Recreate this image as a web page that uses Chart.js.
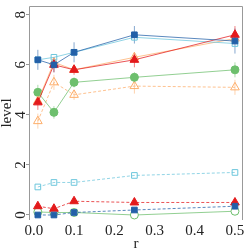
<!DOCTYPE html>
<html>
<head>
<meta charset="utf-8">
<script src="https://cdn.jsdelivr.net/npm/chart.js@4.4.0/dist/chart.umd.min.js"></script>
<style>
  html, body { margin: 0; padding: 0; background: #fff; }
  #wrap { width: 249px; height: 249px; }
</style>
</head>
<body>
<div id="wrap"><canvas id="levelChart" width="249" height="249"></canvas></div>
<script>
// r values on the x axis
const rValues = [0.01, 0.05, 0.1, 0.25, 0.5];
const xTicks = [0.0, 0.1, 0.2, 0.3, 0.4, 0.5];
const yTicks = [0, 2, 4, 6, 8];

// upper group (solid lines)
const blueSolid   = [6.2, 6.0, 6.5, 7.2, 6.95];
const blueSolidErr = [0.4, 0.3, 0.4, 0.35, 0.5];
const cyanSolid   = [6.2, 6.3, 6.5, 7.1, 6.85];
const redSolid    = [4.5, 6.0, 5.8, 6.2, 7.2];
const redSolidErr = [0.3, 0.3, 0.2, 0.3, 0.35];
const orangeSolid = [4.55, 6.1, 5.8, 6.3, 7.05];
const greenSolid  = [4.9, 4.1, 5.3, 5.5, 5.8];
const greenSolidErr = [0.3, 0.25, 0.2, 0.2, 0.3];

// upper group (dashed)
const orangeDashed = [3.75, 5.3, 4.8, 5.15, 5.1];
const orangeDashedErr = [0.3, 0.3, 0.2, 0.3, 0.3];

// lower group
const cyanDashed  = [1.12, 1.3, 1.3, 1.58, 1.7];
const redDashed   = [0.35, 0.25, 0.55, 0.5, 0.5];
const blueDashed  = [0.0, 0.0, 0.1, 0.2, 0.35];
const greenOpen   = [0.12, 0.1, 0.1, 0.0, 0.15];

const BLUE = [35, 96, 168];
const CYAN = [108, 198, 220];
const RED = [227, 26, 28];
const ORANGE = [253, 174, 107];
const GREEN = [109, 191, 109];

const rgba = (c, a) => `rgba(${c[0]},${c[1]},${c[2]},${a})`;

function pts(vals) {
    return vals.map((v, i) => ({ x: rValues[i], y: v }));
}

function series(vals, color, opts) {
    return Object.assign({
        data: pts(vals),
        borderColor: rgba(color, 0.75),
        backgroundColor: rgba(color, 1),
        pointBorderColor: rgba(color, 1),
        pointBackgroundColor: rgba(color, 1),
        borderWidth: 1,
        pointRadius: 4,
        pointBorderWidth: 1,
        pointStyle: 'rect',
        tension: 0
    }, opts);
}

const datasets = [
    series(blueSolid, BLUE, { pointStyle: 'rect', err: blueSolidErr }),
    series(redSolid, RED, { pointStyle: 'triangle', pointRadius: 5, err: redSolidErr }),
    series(cyanSolid, CYAN, { pointStyle: 'rect', pointBackgroundColor: 'rgba(0,0,0,0)' }),
    series(orangeSolid, ORANGE, { pointStyle: 'triangle', pointRadius: 5, pointBackgroundColor: 'rgba(0,0,0,0)' }),
    series(greenSolid, GREEN, { pointStyle: 'circle', err: greenSolidErr }),
    series(orangeDashed, ORANGE, { pointStyle: 'triangle', pointRadius: 5, borderDash: [3, 2], pointBackgroundColor: 'rgba(0,0,0,0)', err: orangeDashedErr }),
    series(blueDashed, BLUE, { pointStyle: 'rect', borderDash: [3, 2] }),
    series(redDashed, RED, { pointStyle: 'triangle', pointRadius: 5, borderDash: [3, 2] }),
    series(cyanDashed, CYAN, { pointStyle: 'rect', borderDash: [3, 2], pointBackgroundColor: 'rgba(0,0,0,0)' }),
    series(greenOpen, GREEN, { pointStyle: 'circle', pointBackgroundColor: 'rgba(255,255,255,1)' })
];

// vertical error bars and the open-bottom frame
const extras = {
    id: 'extras',
    beforeDatasetsDraw(chart) {
        const ctx = chart.ctx;
        const ys = chart.scales.y;
        chart.data.datasets.forEach((ds, di) => {
            if (!ds.err) return;
            const meta = chart.getDatasetMeta(di);
            ctx.save();
            ctx.strokeStyle = ds.pointBorderColor;
            ctx.globalAlpha = 0.55;
            ctx.lineWidth = 1;
            meta.data.forEach((p, i) => {
                const v = ds.data[i].y;
                ctx.beginPath();
                ctx.moveTo(p.x, ys.getPixelForValue(v - ds.err[i]));
                ctx.lineTo(p.x, ys.getPixelForValue(v + ds.err[i]));
                ctx.stroke();
            });
            ctx.restore();
        });
    },
    afterDraw(chart) {
        const { ctx, chartArea } = chart;
        ctx.save();
        ctx.strokeStyle = '#999';
        ctx.lineWidth = 1;
        ctx.beginPath();
        ctx.moveTo(chartArea.left + 0.5, chartArea.bottom);
        ctx.lineTo(chartArea.left + 0.5, chartArea.top + 0.5);
        ctx.lineTo(chartArea.right - 0.5, chartArea.top + 0.5);
        ctx.lineTo(chartArea.right - 0.5, chartArea.bottom);
        ctx.stroke();
        ctx.restore();
    }
};

const tickFont = { family: 'Liberation Serif', size: 15 };

new Chart(document.getElementById('levelChart'), {
    type: 'line',
    data: { datasets: datasets },
    plugins: [extras],
    options: {
        responsive: false,
        animation: false,
        layout: { padding: { left: 0, top: 5, right: 6, bottom: 0 } },
        plugins: {
            legend: { display: false },
            tooltip: { enabled: false }
        },
        scales: {
            x: {
                type: 'linear',
                min: -0.012,
                max: 0.52,
                afterBuildTicks: (s) => { s.ticks = xTicks.map(v => ({ value: v })); },
                afterFit: (s) => { s.height = 29; s.paddingLeft = 0; s.paddingRight = 0; },
                grid: { display: false, drawTicks: false },
                border: { display: false },
                ticks: {
                    color: '#222',
                    font: tickFont,
                    padding: 2,
                    maxRotation: 0,
                    callback: (v) => v.toFixed(1)
                },
                title: {
                    display: true,
                    text: 'r',
                    color: '#222',
                    font: tickFont,
                    padding: { top: 0, bottom: -4 }
                }
            },
            y: {
                min: -0.2,
                max: 8.35,
                afterBuildTicks: (s) => { s.ticks = yTicks.map(v => ({ value: v })); },
                afterFit: (s) => { s.width = 29; s.paddingTop = 0; s.paddingBottom = 0; },
                grid: {
                    display: true,
                    drawOnChartArea: false,
                    drawTicks: true,
                    tickLength: 3,
                    color: '#999'
                },
                border: { display: false },
                ticks: {
                    color: '#222',
                    font: tickFont,
                    padding: 1,
                    minRotation: 90,
                    maxRotation: 90,
                    crossAlign: 'center'
                },
                title: {
                    display: true,
                    text: 'level',
                    color: '#222',
                    font: { family: 'Liberation Serif', size: 15, lineHeight: 1 },
                    padding: 0
                }
            }
        }
    }
});
</script>
</body>
</html>
